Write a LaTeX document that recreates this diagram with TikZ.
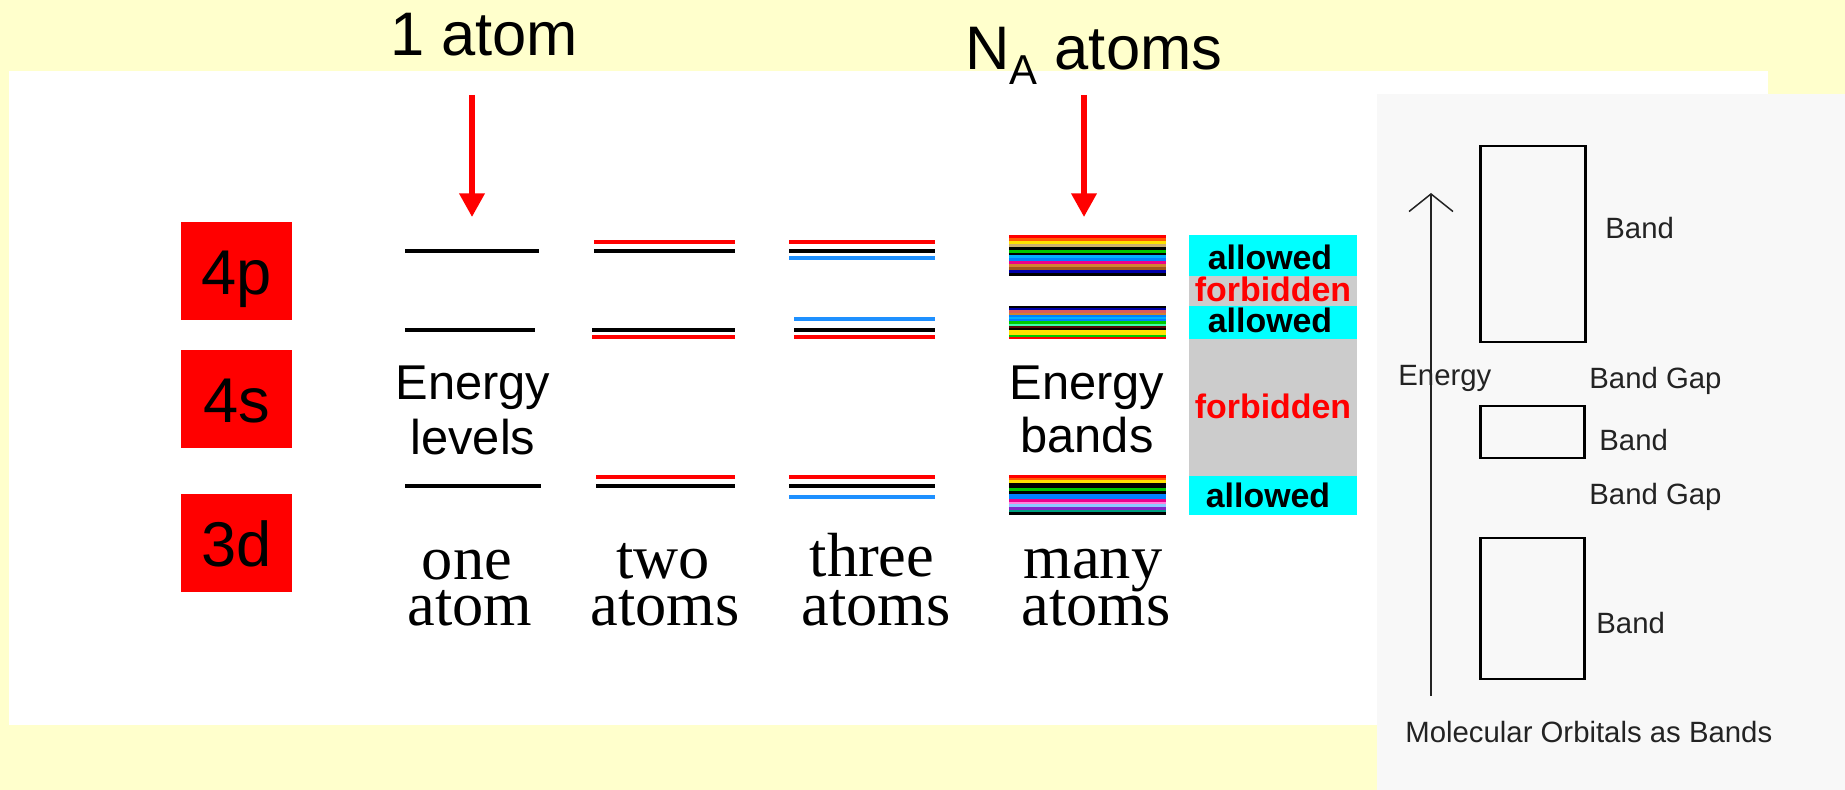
\documentclass[tikz,border=0pt]{standalone}
\usepackage{fontspec}
\setmainfont{Liberation Sans}
\newfontfamily\serifface{Liberation Serif}
\usetikzlibrary{arrows.meta,positioning}

\definecolor{slidebg}{RGB}{255,255,204}
\definecolor{panelbg}{RGB}{248,248,248}
\definecolor{levelblue}{RGB}{30,144,255}
\definecolor{allowcyan}{RGB}{0,255,255}
\definecolor{gapgray}{RGB}{204,204,204}
\definecolor{inkgray}{RGB}{35,35,35}
% stripe colours of the bands
\definecolor{bOrange}{RGB}{255,90,0}
\definecolor{bYellow}{RGB}{255,225,0}
\definecolor{bTan}{RGB}{205,175,110}
\definecolor{bGreen}{RGB}{0,200,0}
\definecolor{bSky}{RGB}{0,175,255}
\definecolor{bDodger}{RGB}{0,128,255}
\definecolor{bPeru}{RGB}{210,130,50}
\definecolor{bSienna}{RGB}{160,85,30}
\definecolor{bNavy}{RGB}{0,0,170}
\definecolor{bRose}{RGB}{220,90,90}
\definecolor{bAqua}{RGB}{60,255,170}
\definecolor{bMaroon}{RGB}{90,10,10}
\definecolor{bPink}{RGB}{255,130,220}
\definecolor{bLight}{RGB}{140,200,255}
\definecolor{bPurple}{RGB}{130,40,200}
\definecolor{bTeal}{RGB}{0,160,130}

\begin{document}
\begin{tikzpicture}[x=0.02cm,y=-0.02cm,
  level/.style={line width=1.9pt},
  redarrow/.style={red,line width=3pt,-{Triangle[length=13.5pt,width=14pt]}},
  orbbox/.style={fill=red,inner sep=0pt,minimum width=2.22cm,minimum height=1.96cm,
    text height=27pt,text depth=0pt,font=\fontsize{36pt}{40pt}\selectfont},
  toplabel/.style={font=\fontsize{35pt}{40pt}\selectfont,inner sep=0pt},
  eword/.style={font=\fontsize{27.8pt}{31pt}\selectfont,inner sep=0pt,anchor=base},
  atomword/.style={font=\serifface\fontsize{35.5pt}{38pt}\selectfont,inner sep=0pt,anchor=base},
  zonetext/.style={font=\bfseries\fontsize{19.3pt}{21pt}\selectfont,inner sep=0pt,anchor=base},
  paneltext/.style={font=\fontsize{16.7pt}{19pt}\selectfont,text=inkgray,inner sep=0pt,anchor=base west},
  bandbox/.style={draw=black,line width=1.7pt},
]
\useasboundingbox (0,0) rectangle (1845,790);
\fill[slidebg] (0,0) rectangle (1845,790);
\fill[white] (9,71) rectangle (1768,725);
\fill[panelbg] (1377,94) rectangle (1845,790);

% titles and arrows
\node[toplabel,anchor=base] (oneatom) at (484,56) {1 atom};
\node[toplabel,anchor=base west] (manyatom) at (965,70)
  {N\raisebox{-8.5pt}{\fontsize{23.8pt}{26pt}\selectfont A} atoms};
\coordinate (arrAs) at (472,95);
\coordinate (arrAt) at (472,217);
\coordinate (arrBs) at (1084,95);
\coordinate (arrBt) at (1084,217);
\draw[redarrow] (arrAs) -- (arrAt);
\draw[redarrow] (arrBs) -- (arrBt);

% orbital boxes
\node[orbbox] (orb4p) at (236.5,271) {4p};
\node[orbbox] (orb4s) at (236.5,399) {4s};
\node[orbbox] (orb3d) at (236.5,543) {3d};

% one atom
\draw[level] (405,251) -- (539,251);
\draw[level] (405,330) -- (535,330);
\draw[level] (405,486) -- (541,486);
\node[eword] (elevA) at (473,399) {Energy};
\node[eword] (elevB) at (473,454) {levels};

% two atoms
\draw[level,red] (594,242) -- (735,242);
\draw[level] (594,251) -- (735,251);
\draw[level] (592,330) -- (735,330);
\draw[level,red] (592,337) -- (735,337);
\draw[level,red] (596,477) -- (735,477);
\draw[level] (596,486) -- (735,486);

% three atoms
\draw[level,red] (789,242) -- (935,242);
\draw[level] (789,251) -- (935,251);
\draw[level,levelblue] (789,258) -- (935,258);
\draw[level,levelblue] (794,319) -- (935,319);
\draw[level] (794,330) -- (935,330);
\draw[level,red] (794,337) -- (935,337);
\draw[level,red] (789,477) -- (935,477);
\draw[level] (789,486) -- (935,486);
\draw[level,levelblue] (789,497) -- (935,497);

% many atoms: bands of stripes
\foreach \c [count=\i] in {red,bOrange,bYellow,bTan,black,bGreen,black,bSky,bDodger,magenta,bPeru,bSienna,bNavy,black}
  \fill[\c] (1009,{235+(\i-1)*41/14}) rectangle (1166,{235.4+\i*41/14});
\foreach \c [count=\i] in {black,bNavy,bRose,bPeru,bDodger,bSky,bDodger,bGreen,bAqua,bMaroon,black,bYellow,bYellow,bGreen,red}
  \fill[\c] (1009,{306+(\i-1)*33/15}) rectangle (1166,{306.4+\i*33/15});
\foreach \c [count=\i] in {red,bOrange,bYellow,black,black,bGreen,black,bDodger,bDodger,magenta,bPink,bLight,bPurple,bTeal,black}
  \fill[\c] (1009,{475+(\i-1)*40/15}) rectangle (1166,{475.4+\i*40/15});
\node[eword] (ebandA) at (1087,399) {Energy};
\node[eword] (ebandB) at (1087,452) {bands};

% allowed / forbidden column
\fill[allowcyan] (1189,235) rectangle (1357,276);
\fill[gapgray] (1189,276) rectangle (1357,306);
\fill[allowcyan] (1189,306) rectangle (1357,339);
\fill[gapgray] (1189,339) rectangle (1357,476);
\fill[allowcyan] (1189,476) rectangle (1357,515);
\node[zonetext] (allowA) at (1270,270) {allowed};
\node[zonetext,red] (forbA) at (1273,302) {forbidden};
\node[zonetext] (allowB) at (1270,333) {allowed};
\node[zonetext,red] (forbB) at (1273,418) {forbidden};
\node[zonetext] (allowC) at (1268,507) {allowed};

% labels under the columns
\node[atomword] (lblA1) at (467,579) {one};
\node[atomword] (lblA2) at (470,625) {atom};
\node[atomword] (lblB1) at (663,578) {two};
\node[atomword] (lblB2) at (665,625) {atoms};
\node[atomword] (lblC1) at (872,576) {three};
\node[atomword] (lblC2) at (876,625) {atoms};
\node[atomword] (lblD1) at (1093,578) {many};
\node[atomword] (lblD2) at (1096,625) {atoms};

% molecular orbitals as bands
\node[paneltext] (penergy) at (1398,385) {Energy};
\coordinate (eaxisB) at (1431,696);
\coordinate (eaxisT) at (1431,193);
\draw[inkgray,line width=0.85pt,-{Straight Barb[length=10pt,width=25pt]}] (eaxisB) -- (eaxisT);
\draw[bandbox] (1480,146) rectangle (1585,342);
\draw[bandbox] (1480,406) rectangle (1584,458);
\draw[bandbox] (1480,538) rectangle (1584,679);
\node[paneltext] (pbandA) at (1605,239) {Band};
\node[paneltext] (pgapA) at (1589,388) {Band Gap};
\node[paneltext] (pbandB) at (1599,450) {Band};
\node[paneltext] (pgapB) at (1589,504) {Band Gap};
\node[paneltext] (pbandC) at (1596,633) {Band};
\node[paneltext] (pcaption) at (1405,742) {Molecular Orbitals as Bands};
\end{tikzpicture}
\end{document}
